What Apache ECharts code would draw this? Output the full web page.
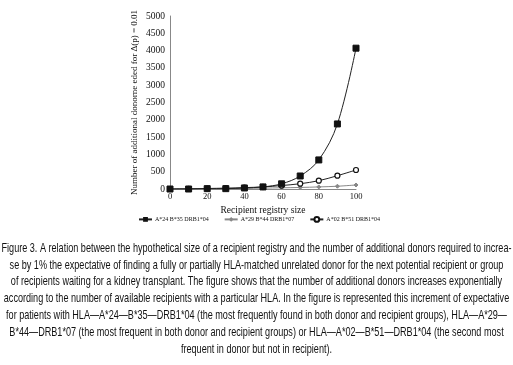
<!DOCTYPE html>
<html>
<head>
<meta charset="utf-8">
<script src="https://cdn.jsdelivr.net/npm/echarts@6/dist/echarts.min.js"></script>
<style>
  html, body { margin: 0; padding: 0; background: #fff; }
  #chart { width: 513px; height: 365px; }
</style>
</head>
<body>
<div id="chart"></div>
<script>
var sizes = [0, 10, 20, 30, 40, 50, 60, 70, 80, 90, 100];
var a24 = [0, 0, 10, 10, 30, 60, 150, 376, 840, 1880, 4070];
var a29 = [0, 3, 8, 12, 18, 25, 35, 45, 60, 80, 116];
var a02 = [0, 5, 15, 25, 40, 60, 100, 153, 240, 385, 549];

var caption = [
    'Figure 3. A relation between the hypothetical size of a recipient registry and the number of additional donors required to increa-',
    'se by 1% the expectative of finding a fully or partially HLA-matched unrelated donor for the next potential recipient or group',
    'of recipients waiting for a kidney transplant. The figure shows that the number of additional donors increases exponentially',
    'according to the number of available recipients with a particular HLA. In the figure is represented this increment of expectative',
    'for patients with HLA\u2014A*24\u2014B*35\u2014DRB1*04 (the most frequently found in both donor and recipient groups), HLA\u2014A*29\u2014',
    'B*44\u2014DRB1*07 (the most frequent in both donor and recipient groups) or HLA\u2014A*02\u2014B*51\u2014DRB1*04 (the second most',
    'frequent in donor but not in recipient).'
];

function pairs(ys) {
    var out = [];
    for (var i = 0; i < sizes.length; i++) out.push([sizes[i], ys[i]]);
    return out;
}

var serif = '"Liberation Serif", "DejaVu Serif", serif';
var capFont = '13.5px "Liberation Sans", "DejaVu Sans", sans-serif';

// squeeze the caption so the longest line fills the page width, like the condensed original
var ctx = document.createElement('canvas').getContext('2d');
ctx.font = capFont;
var widest = 0;
caption.forEach(function (t) { widest = Math.max(widest, ctx.measureText(t).width); });
var squeeze = 510 / widest;

var captionEls = [];
for (var i = 0; i < caption.length; i++) {
    captionEls.push({
        type: 'text',
        x: 256.5,
        y: 248 + i * 16.8,
        scaleX: squeeze,
        style: {
            text: caption[i],
            font: capFont,
            fill: '#111',
            align: 'center',
            verticalAlign: 'middle'
        }
    });
}

var chart = echarts.init(document.getElementById('chart'));
chart.setOption({
    animation: false,
    backgroundColor: '#fff',
    grid: { left: 170, right: 157, top: 16, bottom: 176 },
    xAxis: {
        type: 'value',
        min: 0, max: 100, interval: 20,
        name: 'Recipient registry size',
        nameLocation: 'middle',
        nameGap: 16,
        nameTextStyle: { fontFamily: serif, fontSize: 9.5, color: '#111' },
        axisLine: { lineStyle: { color: '#888', width: 1 } },
        axisTick: { show: false },
        splitLine: { show: false },
        axisLabel: { fontFamily: serif, fontSize: 8.5, color: '#111', margin: 3 }
    },
    yAxis: {
        type: 'value',
        min: 0, max: 5000, interval: 500,
        name: 'Number of additional donorne eded for \u0394(p) = 0.01',
        nameLocation: 'middle',
        nameGap: 31,
        nameTextStyle: { fontFamily: serif, fontSize: 9, color: '#111' },
        axisLine: { show: true, lineStyle: { color: '#888', width: 1 } },
        axisTick: { show: false },
        splitLine: { show: false },
        axisLabel: {
            fontFamily: serif, fontSize: 9.5, color: '#111', margin: 5,
            formatter: function (v) { return String(v); }
        }
    },
    legend: {
        top: 211,
        left: 133,
        itemGap: 15,
        itemWidth: 13,
        itemHeight: 6,
        textStyle: { fontFamily: serif, fontSize: 6, color: '#111', padding: [0, 0, 0, -2] },
        data: ['A*24 B*35 DRB1*04', 'A*29 B*44 DRB1*07', 'A*02 B*51 DRB1*04']
    },
    graphic: captionEls,
    series: [
        {
            name: 'A*24 B*35 DRB1*04',
            type: 'line',
            smooth: 0.35,
            data: pairs(a24),
            symbol: 'rect',
            symbolSize: 6,
            itemStyle: { color: '#111', borderColor: '#111' },
            lineStyle: { color: '#222', width: 1 },
            z: 3
        },
        {
            name: 'A*29 B*44 DRB1*07',
            type: 'line',
            smooth: 0.35,
            data: pairs(a29),
            symbol: 'diamond',
            symbolSize: 4,
            itemStyle: { color: '#888', borderColor: '#888' },
            lineStyle: { color: '#888', width: 1 },
            z: 2
        },
        {
            name: 'A*02 B*51 DRB1*04',
            type: 'line',
            smooth: 0.35,
            data: pairs(a02),
            symbol: 'circle',
            symbolSize: 5,
            itemStyle: { color: '#fff', borderColor: '#111', borderWidth: 1.2 },
            lineStyle: { color: '#222', width: 1 },
            z: 2
        }
    ]
});
</script>
</body>
</html>
